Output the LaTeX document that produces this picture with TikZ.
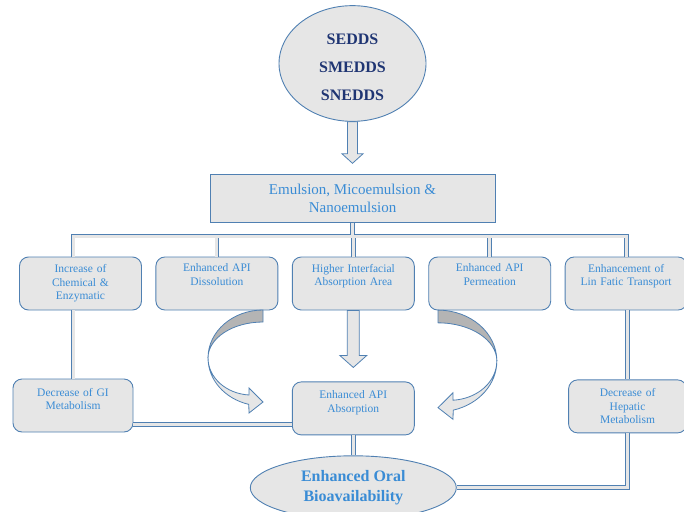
\documentclass[tikz,border=0pt]{standalone}
\usepackage{fontspec}
\setmainfont{Liberation Serif}
\usepackage{tikz}
\usetikzlibrary{positioning}
\usetikzlibrary{shapes.geometric}
\usepackage{xcolor}
\definecolor{lineblue}{HTML}{5080B2}
\definecolor{textblue}{HTML}{3A8CD5}
\definecolor{navyblue}{HTML}{1F3573}
\definecolor{boxgray}{HTML}{E6E6E6}
\definecolor{foldgray}{HTML}{B4B4B4}
\tikzset{
  effect/.style={draw=lineblue, line width=0.9pt, fill=boxgray, rounded corners=9pt,
    minimum width=122pt, minimum height=53pt, text width=114pt, align=center,
    text=textblue, font=\fontsize{11.5}{13.5}\selectfont, inner sep=2pt},
  dline/.style={draw=lineblue, line width=0.9pt, double=boxgray, double distance=3pt},
  hollow/.style={draw=lineblue, line width=0.8pt, fill=boxgray}
}
\newcommand{\bentarrow}{%
  \draw[hollow, fill=foldgray] (0,48) arc[start angle=90, end angle=180, x radius=55, y radius=48]
    arc[start angle=180, end angle=90, x radius=55, y radius=36] -- cycle;
  \draw[hollow] (-55,0) arc[start angle=180, end angle=255, x radius=55, y radius=48]
    -- (-14,-55) -- (0,-44) -- (-14,-30) -- (-14,-37)
    arc[start angle=266, end angle=180, x radius=44, y radius=37] -- cycle;}

\begin{document}
\begin{tikzpicture}[x=1pt, y=1pt]
\useasboundingbox (0,0) rectangle (684,-511);
\node (sedds) [ellipse, draw=lineblue, line width=0.9pt, fill=boxgray, minimum width=147pt,
  minimum height=113pt, text=navyblue, font=\fontsize{16}{28}\selectfont\bfseries, align=center]
  at (352.5,-63.5) {\rule{0pt}{19pt}SEDDS\\SMEDDS\\SNEDDS};
\node (emul) [below=52pt of sedds, draw=lineblue, line width=0.9pt, fill=boxgray, minimum width=285pt,
  minimum height=48pt, text=textblue, font=\fontsize{15}{17.5}\selectfont, align=center]
  {Emulsion, Micoemulsion \&\\Nanoemulsion};
\node (incr) [effect] at (80.5,-283.5) {Increase of\\Chemical \&\\Enzymatic};
\node (dissol) [effect, right=13.5pt of incr] {Enhanced API\\Dissolution\\\strut};
\node (interf) [effect, right=13.5pt of dissol] {Higher Interfacial\\Absorption Area\\\strut};
\node (perm) [effect, right=13.5pt of interf] {Enhanced API\\Permeation\\\strut};
\node (lymph) [effect, right=13.5pt of perm] {Enhancement of\\Lin Fatic Transport\\\strut};
\node (gimet) [effect, minimum width=120pt] at (73,-405.5) {Decrease of GI\\Metabolism\\[-4pt]\strut};
\node (absorb) [effect, below=71pt of interf] {Enhanced API\\Absorption\\[-4pt]\strut};
\node (hepmet) [effect, minimum width=118pt, below=69pt of lymph, xshift=1.5pt] {Decrease of\\Hepatic\\Metabolism};
\node (oral) [ellipse, below=20pt of absorb, draw=lineblue, line width=0.9pt, fill=boxgray,
  minimum width=206pt, minimum height=64pt, text=textblue, font=\fontsize{16}{19.5}\selectfont\bfseries,
  align=center] {Enhanced Oral\\Bioavailability};
\coordinate (bar) at (352,-236);
\draw[dline] (gimet.north |- incr.north) -- (gimet.north |- bar) -- (lymph.north |- bar) -- (lymph.north)
  (emul.south) -- (emul.south |- bar)
  (dissol.north |- bar) -- (dissol.north)
  (interf.north |- bar) -- (interf.north)
  (perm.north |- bar) -- (perm.north);
\draw[dline] (gimet.north |- incr.south) -- (gimet.north);
\draw[dline] (hepmet.north |- lymph.south) -- (hepmet.north);
\draw[dline] ([yshift=-19pt]gimet.east) -- ([yshift=-19pt]gimet.east -| absorb.west);
\draw[dline] (absorb.south) -- (oral.north);
\draw[dline] (hepmet.south) |- (oral.east);
\draw[hollow] ([xshift=-5pt]sedds.south) -- ++(0,-32) -- ++(-5.5,0) -- ++(10.5,-9.5)
  -- ++(10.5,9.5) -- ++(-5.5,0) -- ++(0,32) -- cycle;
\draw[hollow] ([xshift=-6pt]interf.south) -- ++(0,-45) -- ++(-7.5,0) -- ++(13.5,-12)
  -- ++(13.5,12) -- ++(-7.5,0) -- ++(0,45) -- cycle;
\begin{scope}[shift={(263,-358)}]\bentarrow\end{scope}
\begin{scope}[shift={(438,-361)}, xscale=-1.07, yscale=1.06]\bentarrow\end{scope}
\end{tikzpicture}
\end{document}
